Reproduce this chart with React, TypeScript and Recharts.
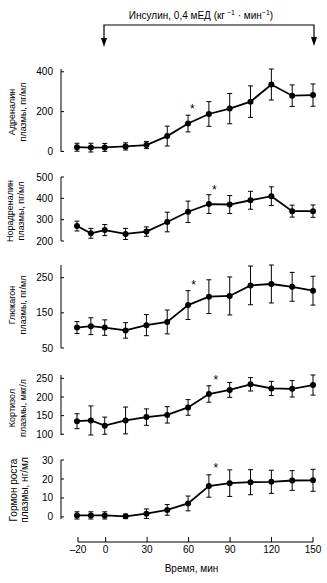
import React from 'react';
import { LineChart, Line, XAxis, YAxis, ErrorBar, ReferenceDot } from 'recharts';

const times = [-20, -10, 0, 15, 30, 45, 60, 75, 90, 105, 120, 135, 150];
const xTicks = [-20, 0, 30, 60, 90, 120, 150];

const adrenaline = [21, 19, 20, 25, 32, 77, 140, 188, 215, 250, 336, 280, 283];
const adrenalineErr = [20, 22, 20, 18, 18, 50, 42, 62, 76, 79, 78, 54, 56];
const adrenalineTicks = [0, 200, 400];

const noradrenaline = [270, 236, 251, 233, 244, 289, 337, 373, 371, 391, 410, 340, 340];
const noradrenalineErr = [23, 23, 26, 26, 22, 46, 50, 44, 42, 42, 44, 28, 29];
const noradrenalineTicks = [200, 300, 400, 500];

const glucagon = [108, 112, 108, 100, 115, 124, 172, 196, 198, 228, 232, 224, 213];
const glucagonErr = [17, 24, 22, 22, 30, 34, 41, 48, 54, 55, 54, 41, 41];
const glucagonTicks = [50, 150, 250];

const cortisol = [135, 137, 123, 137, 146, 152, 172, 208, 219, 234, 223, 222, 232];
const cortisolErr = [20, 39, 23, 36, 22, 22, 21, 22, 20, 18, 19, 22, 27];
const cortisolTicks = [100, 150, 200, 250];

const growth = [0.8, 0.8, 0.8, 0.3, 1.7, 3.7, 7.1, 16.3, 17.8, 18.3, 18.5, 19.2, 19.3];
const growthErr = [1.9, 1.9, 1.9, 1.2, 2.5, 2.8, 3.9, 5.9, 7, 6.6, 6.1, 5.2, 5.8];
const growthTicks = [0, 10, 20, 30];

const asteriskTimes = [63, 79, 64, 80, 80];
const asteriskValues = [212, 442, 231, 245, 26];

const FONT = '"Liberation Sans", Arial, sans-serif';
const W = 327;

type PanelProps = {
  top: number;
  plotHeight: number;
  values: number[];
  errors: number[];
  ticks: number[];
  starIndex: number;
};

function Panel({ top, plotHeight, values, errors, ticks, starIndex }: PanelProps) {
  const data = times.map((t, i) => ({ t, v: values[i], err: errors[i] }));
  const d0 = ticks[0];
  const d1 = ticks[ticks.length - 1];
  return (
    <div style={{ position: 'absolute', left: 0, top: top - 20 }}>
      <LineChart
        width={W}
        height={plotHeight + 30}
        data={data}
        margin={{ top: 20, right: 14, bottom: 10, left: 0 }}
      >
        <XAxis dataKey="t" type="number" domain={[-20, 150]} hide padding={{ left: 16, right: 0 }} />
        <YAxis
          type="number"
          domain={[() => d0, () => d1]}
          ticks={ticks}
          interval={0}
          width={61}
          tickSize={-3}
          tickMargin={11}
          axisLine={{ stroke: '#000', strokeWidth: 1 }}
          tickLine={{ stroke: '#000', strokeWidth: 1 }}
          tick={{ fill: '#000', fontSize: 10, fontFamily: FONT }}
        />
        <Line
          dataKey="v"
          stroke="#000"
          strokeWidth={1.8}
          dot={{ r: 3, fill: '#000', stroke: '#000', strokeWidth: 0 }}
          isAnimationActive={false}
        >
          <ErrorBar dataKey="err" width={2.5} stroke="#000" strokeWidth={1} direction="y" isAnimationActive={false} />
        </Line>
        <ReferenceDot
          x={asteriskTimes[starIndex]}
          y={asteriskValues[starIndex]}
          r={0}
          fill="none"
          stroke="none"
          label={{ value: '*', position: 'center', fontSize: 12, fill: '#000', fontFamily: FONT }}
        />
      </LineChart>
    </div>
  );
}

function VLabel({ cx, cy, l1, l2, size }: { cx: number; cy: number; l1: string; l2: string; size: number }) {
  return (
    <div
      style={{
        position: 'absolute',
        left: cx,
        top: cy,
        transform: 'translate(-50%, -50%) rotate(-90deg)',
        whiteSpace: 'nowrap',
        fontSize: size,
        lineHeight: '11px',
        textAlign: 'center',
        fontFamily: FONT,
        color: '#000',
      }}
    >
      {l1}
      <br />
      {l2}
    </div>
  );
}

export default function App() {
  const xData = times.map((t, i) => ({ t, v: growth[i] }));
  return (
    <div style={{ position: 'absolute', left: 0, top: 0, width: W, height: 583, background: '#fff', overflow: 'hidden' }}>
      <svg width={W} height={60} style={{ position: 'absolute', left: 0, top: 0 }}>
        <text x={201} y={19} textAnchor="middle" fontSize={10} fontFamily={FONT} fill="#000">
          Инсулин, 0,4 мЕД (кг
          <tspan fontSize={7} dy={-4}> −1</tspan>
          <tspan dy={4}> · мин</tspan>
          <tspan fontSize={7} dy={-4}>−1</tspan>
          <tspan dy={4}>)</tspan>
        </text>
        <path d="M104,40 L104,25 L314,25 L314,38" fill="none" stroke="#000" strokeWidth={1.2} />
        <polygon points="101,38 107,38 104,47" fill="#000" />
        <polygon points="311,37 317,37 314,46" fill="#000" />
      </svg>

      <Panel top={69} plotHeight={83} values={adrenaline} errors={adrenalineErr} ticks={adrenalineTicks} starIndex={0} />
      <Panel top={177} plotHeight={64} values={noradrenaline} errors={noradrenalineErr} ticks={noradrenalineTicks} starIndex={1} />
      <Panel top={265} plotHeight={83} values={glucagon} errors={glucagonErr} ticks={glucagonTicks} starIndex={2} />
      <Panel top={375} plotHeight={60} values={cortisol} errors={cortisolErr} ticks={cortisolTicks} starIndex={3} />
      <Panel top={460} plotHeight={59} values={growth} errors={growthErr} ticks={growthTicks} starIndex={4} />

      <div style={{ position: 'absolute', left: 0, top: 532 }}>
        <LineChart width={W} height={50} data={xData} margin={{ top: 10, right: 14, bottom: 0, left: 78 }}>
          <XAxis
            dataKey="t"
            type="number"
            domain={[-20, 150]}
            ticks={xTicks}
            interval={0}
            height={40}
            tickSize={-5}
            tickMargin={9}
            axisLine={{ stroke: '#000', strokeWidth: 1 }}
            tickLine={{ stroke: '#000', strokeWidth: 1 }}
            tick={{ fill: '#000', fontSize: 10, fontFamily: FONT }}
            tickFormatter={(v: number) => (v < 0 ? '–' + Math.abs(v) : String(v))}
            label={{ value: 'Время, мин', position: 'insideBottom', offset: 10, dx: -4, fontSize: 10, fill: '#000', fontFamily: FONT }}
          />
          <YAxis hide domain={[0, 30]} />
          <Line dataKey="v" stroke="none" dot={false} isAnimationActive={false} />
        </LineChart>
      </div>

      <VLabel cx={18} cy={112} l1="Адреналин" l2="плазмы, пг/мл" size={9} />
      <VLabel cx={16} cy={211} l1="Норадреналин" l2="плазмы, пг/мл" size={9} />
      <VLabel cx={18} cy={305} l1="Глюкагон" l2="плазмы, пг/мл" size={9} />
      <VLabel cx={18} cy={408} l1="Кортизол" l2="плазмы, мкг/л" size={9} />
      <VLabel cx={19} cy={490} l1="Гормон роста" l2="плазмы, нг/мл" size={10} />
    </div>
  );
}
